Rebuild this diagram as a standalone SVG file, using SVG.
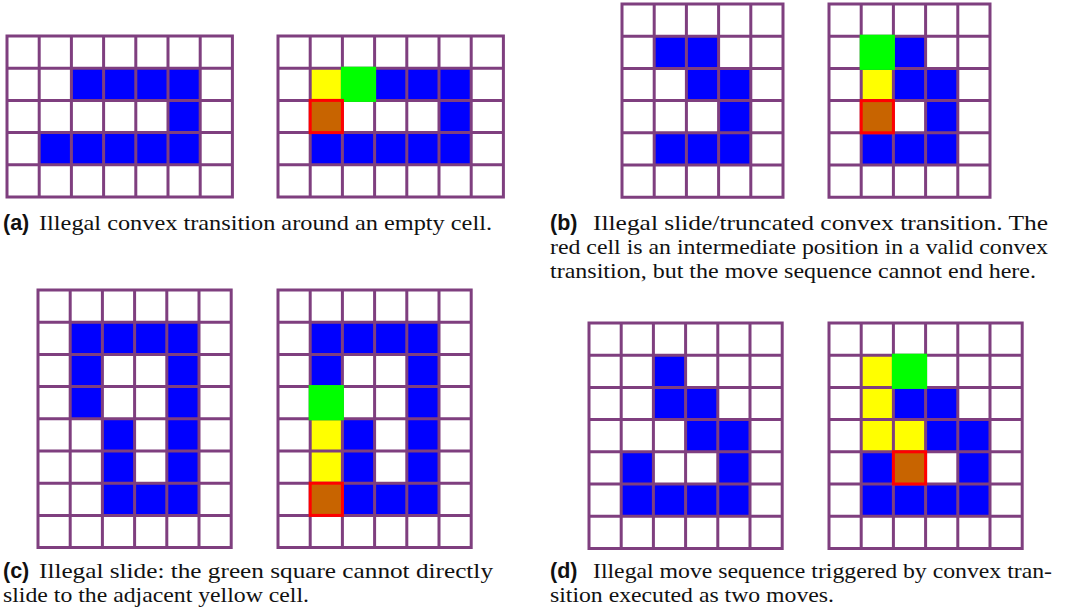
<svg xmlns="http://www.w3.org/2000/svg" xmlns:xlink="http://www.w3.org/1999/xlink" width="1070" height="615" viewBox="0 0 1070 615">
  <style>
    .bg{fill:#fff}
    .grid{fill:none;stroke:#7f3f7f;stroke-width:3;stroke-linecap:square}
    .b{fill:#0000ff}
    .y{fill:#ffff00}
    .g{fill:#00ff00}
    .r{fill:#c86400;stroke:#ff0000;stroke-width:3}
    .cap{font-family:"Liberation Serif","Times New Roman",serif;font-size:21.5px;fill:#111}
    .lab{font-family:"Liberation Sans",Arial,sans-serif;font-weight:bold;font-size:21.5px;fill:#111}
  </style>
  <defs>
    <!-- grid line sets, cell pitch 32.2 -->
    <path id="g7x5" d="M0 0V161M32.2 0V161M64.4 0V161M96.6 0V161M128.8 0V161M161 0V161M193.2 0V161M225.4 0V161M0 0H225.4M0 32.2H225.4M0 64.4H225.4M0 96.6H225.4M0 128.8H225.4M0 161H225.4"/>
    <path id="g5x6" d="M0 0V193.2M32.2 0V193.2M64.4 0V193.2M96.6 0V193.2M128.8 0V193.2M161 0V193.2M0 0H161M0 32.2H161M0 64.4H161M0 96.6H161M0 128.8H161M0 161H161M0 193.2H161"/>
    <path id="g6x8" d="M0 0V257.6M32.2 0V257.6M64.4 0V257.6M96.6 0V257.6M128.8 0V257.6M161 0V257.6M193.2 0V257.6M0 0H193.2M0 32.2H193.2M0 64.4H193.2M0 96.6H193.2M0 128.8H193.2M0 161H193.2M0 193.2H193.2M0 225.4H193.2M0 257.6H193.2"/>
    <path id="g6x7" d="M0 0V225.4M32.2 0V225.4M64.4 0V225.4M96.6 0V225.4M128.8 0V225.4M161 0V225.4M193.2 0V225.4M0 0H193.2M0 32.2H193.2M0 64.4H193.2M0 96.6H193.2M0 128.8H193.2M0 161H193.2M0 193.2H193.2M0 225.4H193.2"/>
  </defs>
  <rect width="1070" height="615" fill="#fff"/>

  <!-- (a) left -->
  <g id="grid-a-left" transform="translate(7,36)">
    <rect class="bg" width="225.4" height="161"/>
    <rect class="b" x="64.4" y="32.2" width="32.2" height="32.2"/>
    <rect class="b" x="96.6" y="32.2" width="32.2" height="32.2"/>
    <rect class="b" x="128.8" y="32.2" width="32.2" height="32.2"/>
    <rect class="b" x="161" y="32.2" width="32.2" height="32.2"/>
    <rect class="b" x="161" y="64.4" width="32.2" height="32.2"/>
    <rect class="b" x="32.2" y="96.6" width="32.2" height="32.2"/>
    <rect class="b" x="64.4" y="96.6" width="32.2" height="32.2"/>
    <rect class="b" x="96.6" y="96.6" width="32.2" height="32.2"/>
    <rect class="b" x="128.8" y="96.6" width="32.2" height="32.2"/>
    <rect class="b" x="161" y="96.6" width="32.2" height="32.2"/>
    <use xlink:href="#g7x5" class="grid"/>
  </g>

  <!-- (a) right -->
  <g id="grid-a-right" transform="translate(278,36)">
    <rect class="bg" width="225.4" height="161"/>
    <rect class="y" x="32.2" y="32.2" width="32.2" height="32.2"/>
    <rect class="b" x="96.6" y="32.2" width="32.2" height="32.2"/>
    <rect class="b" x="128.8" y="32.2" width="32.2" height="32.2"/>
    <rect class="b" x="161" y="32.2" width="32.2" height="32.2"/>
    <rect class="b" x="161" y="64.4" width="32.2" height="32.2"/>
    <rect class="b" x="32.2" y="96.6" width="32.2" height="32.2"/>
    <rect class="b" x="64.4" y="96.6" width="32.2" height="32.2"/>
    <rect class="b" x="96.6" y="96.6" width="32.2" height="32.2"/>
    <rect class="b" x="128.8" y="96.6" width="32.2" height="32.2"/>
    <rect class="b" x="161" y="96.6" width="32.2" height="32.2"/>
    <use xlink:href="#g7x5" class="grid"/>
    <rect class="g" x="62.9" y="30.7" width="35.2" height="35.2"/>
    <rect class="r" x="32.2" y="64.4" width="32.2" height="32.2"/>
  </g>

  <!-- (b) left -->
  <g id="grid-b-left" transform="translate(622,4)">
    <rect class="bg" width="161" height="193.2"/>
    <rect class="b" x="32.2" y="32.2" width="32.2" height="32.2"/>
    <rect class="b" x="64.4" y="32.2" width="32.2" height="32.2"/>
    <rect class="b" x="64.4" y="64.4" width="32.2" height="32.2"/>
    <rect class="b" x="96.6" y="64.4" width="32.2" height="32.2"/>
    <rect class="b" x="96.6" y="96.6" width="32.2" height="32.2"/>
    <rect class="b" x="32.2" y="128.8" width="32.2" height="32.2"/>
    <rect class="b" x="64.4" y="128.8" width="32.2" height="32.2"/>
    <rect class="b" x="96.6" y="128.8" width="32.2" height="32.2"/>
    <use xlink:href="#g5x6" class="grid"/>
  </g>

  <!-- (b) right -->
  <g id="grid-b-right" transform="translate(829,4)">
    <rect class="bg" width="161" height="193.2"/>
    <rect class="b" x="64.4" y="32.2" width="32.2" height="32.2"/>
    <rect class="y" x="32.2" y="64.4" width="32.2" height="32.2"/>
    <rect class="b" x="64.4" y="64.4" width="32.2" height="32.2"/>
    <rect class="b" x="96.6" y="64.4" width="32.2" height="32.2"/>
    <rect class="b" x="96.6" y="96.6" width="32.2" height="32.2"/>
    <rect class="b" x="32.2" y="128.8" width="32.2" height="32.2"/>
    <rect class="b" x="64.4" y="128.8" width="32.2" height="32.2"/>
    <rect class="b" x="96.6" y="128.8" width="32.2" height="32.2"/>
    <use xlink:href="#g5x6" class="grid"/>
    <rect class="g" x="30.7" y="30.7" width="35.2" height="35.2"/>
    <rect class="r" x="32.2" y="96.6" width="32.2" height="32.2"/>
  </g>

  <!-- (c) left -->
  <g id="grid-c-left" transform="translate(38,290)">
    <rect class="bg" width="193.2" height="257.6"/>
    <rect class="b" x="32.2" y="32.2" width="32.2" height="32.2"/>
    <rect class="b" x="64.4" y="32.2" width="32.2" height="32.2"/>
    <rect class="b" x="96.6" y="32.2" width="32.2" height="32.2"/>
    <rect class="b" x="128.8" y="32.2" width="32.2" height="32.2"/>
    <rect class="b" x="32.2" y="64.4" width="32.2" height="32.2"/>
    <rect class="b" x="128.8" y="64.4" width="32.2" height="32.2"/>
    <rect class="b" x="32.2" y="96.6" width="32.2" height="32.2"/>
    <rect class="b" x="128.8" y="96.6" width="32.2" height="32.2"/>
    <rect class="b" x="64.4" y="128.8" width="32.2" height="32.2"/>
    <rect class="b" x="128.8" y="128.8" width="32.2" height="32.2"/>
    <rect class="b" x="64.4" y="161" width="32.2" height="32.2"/>
    <rect class="b" x="128.8" y="161" width="32.2" height="32.2"/>
    <rect class="b" x="64.4" y="193.2" width="32.2" height="32.2"/>
    <rect class="b" x="96.6" y="193.2" width="32.2" height="32.2"/>
    <rect class="b" x="128.8" y="193.2" width="32.2" height="32.2"/>
    <use xlink:href="#g6x8" class="grid"/>
  </g>

  <!-- (c) right -->
  <g id="grid-c-right" transform="translate(278,290)">
    <rect class="bg" width="193.2" height="257.6"/>
    <rect class="b" x="32.2" y="32.2" width="32.2" height="32.2"/>
    <rect class="b" x="64.4" y="32.2" width="32.2" height="32.2"/>
    <rect class="b" x="96.6" y="32.2" width="32.2" height="32.2"/>
    <rect class="b" x="128.8" y="32.2" width="32.2" height="32.2"/>
    <rect class="b" x="32.2" y="64.4" width="32.2" height="32.2"/>
    <rect class="b" x="128.8" y="64.4" width="32.2" height="32.2"/>
    <rect class="b" x="128.8" y="96.6" width="32.2" height="32.2"/>
    <rect class="y" x="32.2" y="128.8" width="32.2" height="32.2"/>
    <rect class="b" x="64.4" y="128.8" width="32.2" height="32.2"/>
    <rect class="b" x="128.8" y="128.8" width="32.2" height="32.2"/>
    <rect class="y" x="32.2" y="161" width="32.2" height="32.2"/>
    <rect class="b" x="64.4" y="161" width="32.2" height="32.2"/>
    <rect class="b" x="128.8" y="161" width="32.2" height="32.2"/>
    <rect class="b" x="64.4" y="193.2" width="32.2" height="32.2"/>
    <rect class="b" x="96.6" y="193.2" width="32.2" height="32.2"/>
    <rect class="b" x="128.8" y="193.2" width="32.2" height="32.2"/>
    <use xlink:href="#g6x8" class="grid"/>
    <rect class="g" x="30.7" y="95.1" width="35.2" height="35.2"/>
    <rect class="r" x="32.2" y="193.2" width="32.2" height="32.2"/>
  </g>

  <!-- (d) left -->
  <g id="grid-d-left" transform="translate(589,323)">
    <rect class="bg" width="193.2" height="225.4"/>
    <rect class="b" x="64.4" y="32.2" width="32.2" height="32.2"/>
    <rect class="b" x="64.4" y="64.4" width="32.2" height="32.2"/>
    <rect class="b" x="96.6" y="64.4" width="32.2" height="32.2"/>
    <rect class="b" x="96.6" y="96.6" width="32.2" height="32.2"/>
    <rect class="b" x="128.8" y="96.6" width="32.2" height="32.2"/>
    <rect class="b" x="32.2" y="128.8" width="32.2" height="32.2"/>
    <rect class="b" x="128.8" y="128.8" width="32.2" height="32.2"/>
    <rect class="b" x="32.2" y="161" width="32.2" height="32.2"/>
    <rect class="b" x="64.4" y="161" width="32.2" height="32.2"/>
    <rect class="b" x="96.6" y="161" width="32.2" height="32.2"/>
    <rect class="b" x="128.8" y="161" width="32.2" height="32.2"/>
    <use xlink:href="#g6x7" class="grid"/>
  </g>

  <!-- (d) right -->
  <g id="grid-d-right" transform="translate(829,323)">
    <rect class="bg" width="193.2" height="225.4"/>
    <rect class="y" x="32.2" y="32.2" width="32.2" height="32.2"/>
    <rect class="y" x="32.2" y="64.4" width="32.2" height="32.2"/>
    <rect class="b" x="64.4" y="64.4" width="32.2" height="32.2"/>
    <rect class="b" x="96.6" y="64.4" width="32.2" height="32.2"/>
    <rect class="y" x="32.2" y="96.6" width="32.2" height="32.2"/>
    <rect class="y" x="64.4" y="96.6" width="32.2" height="32.2"/>
    <rect class="b" x="96.6" y="96.6" width="32.2" height="32.2"/>
    <rect class="b" x="128.8" y="96.6" width="32.2" height="32.2"/>
    <rect class="b" x="32.2" y="128.8" width="32.2" height="32.2"/>
    <rect class="b" x="128.8" y="128.8" width="32.2" height="32.2"/>
    <rect class="b" x="32.2" y="161" width="32.2" height="32.2"/>
    <rect class="b" x="64.4" y="161" width="32.2" height="32.2"/>
    <rect class="b" x="96.6" y="161" width="32.2" height="32.2"/>
    <rect class="b" x="128.8" y="161" width="32.2" height="32.2"/>
    <use xlink:href="#g6x7" class="grid"/>
    <rect class="g" x="62.9" y="30.7" width="35.2" height="35.2"/>
    <rect class="r" x="64.4" y="128.8" width="32.2" height="32.2"/>
  </g>

  <!-- captions -->
  <g id="caption-a">
    <text class="lab" x="3" y="230">(a)</text>
    <text class="cap" x="39" y="230" textLength="453" lengthAdjust="spacingAndGlyphs">Illegal convex transition around an empty cell.</text>
  </g>
  <g id="caption-b">
    <text class="lab" x="550" y="230">(b)</text>
    <text class="cap" x="593" y="230" textLength="455" lengthAdjust="spacingAndGlyphs">Illegal slide/truncated convex transition. The</text>
    <text class="cap" x="550" y="254" textLength="498" lengthAdjust="spacingAndGlyphs">red cell is an intermediate position in a valid convex</text>
    <text class="cap" x="550" y="278" textLength="486" lengthAdjust="spacingAndGlyphs">transition, but the move sequence cannot end here.</text>
  </g>
  <g id="caption-c">
    <text class="lab" x="3" y="578">(c)</text>
    <text class="cap" x="39" y="578" textLength="454" lengthAdjust="spacingAndGlyphs">Illegal slide: the green square cannot directly</text>
    <text class="cap" x="3" y="602" textLength="306" lengthAdjust="spacingAndGlyphs">slide to the adjacent yellow cell.</text>
  </g>
  <g id="caption-d">
    <text class="lab" x="550" y="578">(d)</text>
    <text class="cap" x="593" y="578" textLength="459" lengthAdjust="spacingAndGlyphs">Illegal move sequence triggered by convex tran-</text>
    <text class="cap" x="550" y="602" textLength="284" lengthAdjust="spacingAndGlyphs">sition executed as two moves.</text>
  </g>
</svg>
